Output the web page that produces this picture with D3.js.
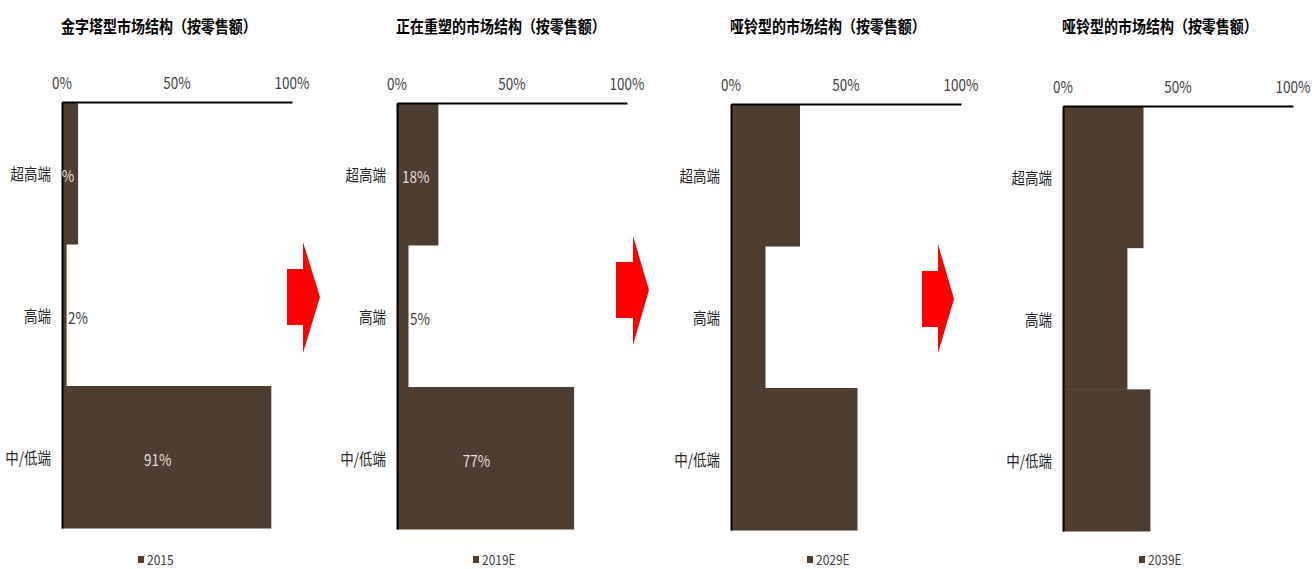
<!DOCTYPE html>
<html><head><meta charset="utf-8">
<script src="https://cdn.jsdelivr.net/npm/d3@7"></script>
<style>body{margin:0;background:#fff}svg{display:block}</style>
</head><body>
<svg id="c" width="1312" height="569"></svg>
<script>
// ---- data ----
const categories = ["超高端", "高端", "中/低端"];
const titles = ["金字塔型市场结构（按零售额）", "正在重塑的市场结构（按零售额）", "哑铃型的市场结构（按零售额）", "哑铃型的市场结构（按零售额）"];
const seriesNames = ["2015", "2019E", "2029E", "2039E"];
const values2015 = [7, 2, 91];
const values2019 = [18, 5, 77];
const values2029 = [30, 15, 55];
const values2039 = [35, 28, 38];
const labels2015 = ["%", "2%", "91%"];
const labels2019 = ["18%", "5%", "77%"];
const labels2029 = [];
const labels2039 = [];
const tickValues = [0, 50, 100];
const tickLabels = ["0%", "50%", "100%"];

const seriesValues = [values2015, values2019, values2029, values2039];
const seriesLabels = [labels2015, labels2019, labels2029, labels2039];

// ---- layout ----
const panelX = [62, 397, 731, 1063];
const panelTop = [102, 103, 104, 106];
const panelBottom = [528, 529, 530, 531];
const plotW = 230;
const FONT = "'Noto Sans CJK SC', 'Noto Sans', sans-serif";
const VS = 1.18; // vertical stretch of the source image text
const barColor = "#4E3D31";

const svg = d3.select("#c");

function txt(g, x, y, s, opts) {
  const t = g.append("text")
    .attr("transform", `translate(${x},${y}) scale(1,${VS})`)
    .attr("dominant-baseline", "central")
    .attr("font-family", FONT)
    .attr("font-size", opts.size || 13.5)
    .attr("fill", opts.fill || "#262626")
    .attr("text-anchor", opts.anchor || "middle")
    .text(s);
  if (opts.weight) t.attr("font-weight", opts.weight);
  return t;
}

seriesValues.forEach((vals, i) => {
  const x0 = panelX[i];
  const g = svg.append("g");
  const x = d3.scaleLinear().domain([0, 100]).range([x0, x0 + plotW]);
  const y = d3.scaleBand().domain(categories).range([panelTop[i], panelBottom[i]]).padding(0);

  // title
  txt(g, x0 - 1, 25, titles[i], {size: 14, weight: "bold", fill: "#000", anchor: "start"});

  // bars
  g.selectAll("rect.bar").data(categories).join("rect")
    .attr("class", "bar")
    .attr("x", x(0))
    .attr("y", d => y(d))
    .attr("width", (d, k) => x(vals[k]) - x(0))
    .attr("height", y.bandwidth() + 0.5)
    .attr("fill", barColor);

  // top axis
  const ax = g.append("g").attr("transform", `translate(0,${panelTop[i]})`)
    .call(d3.axisTop(x).tickValues(tickValues).tickSize(0).tickPadding(0).tickFormat((d, k) => tickLabels[k]));
  ax.select(".domain").attr("stroke", "#000").attr("stroke-width", 2);
  ax.selectAll(".tick text").remove();
  tickValues.forEach((v, k) => txt(g, x(v), panelTop[i] - 20, tickLabels[k], {size: 13.5, fill: "#404040"}));

  // left axis
  const ay = g.append("g").attr("transform", `translate(${x0},0)`)
    .call(d3.axisLeft(y).tickSize(0).tickPadding(0));
  ay.select(".domain").attr("stroke", "#000").attr("stroke-width", 2);
  ay.selectAll(".tick text").remove();
  categories.forEach(c => txt(g, x0 - 11, y(c) + y.bandwidth() / 2, c, {size: 13.5, fill: "#262626", anchor: "end"}));

  // data labels
  seriesLabels[i].forEach((lab, k) => {
    const v = vals[k];
    const cy = y(categories[k]) + y.bandwidth() / 2 + 2;
    if (v < 6) {
      txt(g, x(v) + 1.5, cy, lab, {size: 13.5, fill: "#404040", anchor: "start"});
    } else {
      txt(g, (x(0) + x(v)) / 2 - (v > 50 ? 9 : 2), cy, lab, {size: 13.5, fill: "#e3dfdb"});
    }
  });

  // legend
  const lx = x0 + 76;
  g.append("rect").attr("x", lx).attr("y", 556).attr("width", 6).attr("height", 7).attr("fill", barColor);
  txt(g, lx + 9, 559.5, seriesNames[i], {size: 12, fill: "#404040", anchor: "start"});
});

// red block arrows between panels (decoration)
const arrows = [
  {bx0: 287, bx1: 303, by0: 269, by1: 325, hy0: 242, hy1: 353, tx: 320, ty: 297},
  {bx0: 616, bx1: 633, by0: 262, by1: 318, hy0: 236, hy1: 345, tx: 649, ty: 290},
  {bx0: 922, bx1: 938, by0: 271, by1: 327, hy0: 244, hy1: 353, tx: 954, ty: 299}
];
arrows.forEach(a => {
  const p = d3.path();
  p.moveTo(a.bx0, a.by0); p.lineTo(a.bx1, a.by0); p.lineTo(a.bx1, a.hy0);
  p.lineTo(a.tx, a.ty); p.lineTo(a.bx1, a.hy1); p.lineTo(a.bx1, a.by1);
  p.lineTo(a.bx0, a.by1); p.closePath();
  svg.append("path").attr("d", p.toString()).attr("fill", "#FF0000");
});
</script>
</body></html>
